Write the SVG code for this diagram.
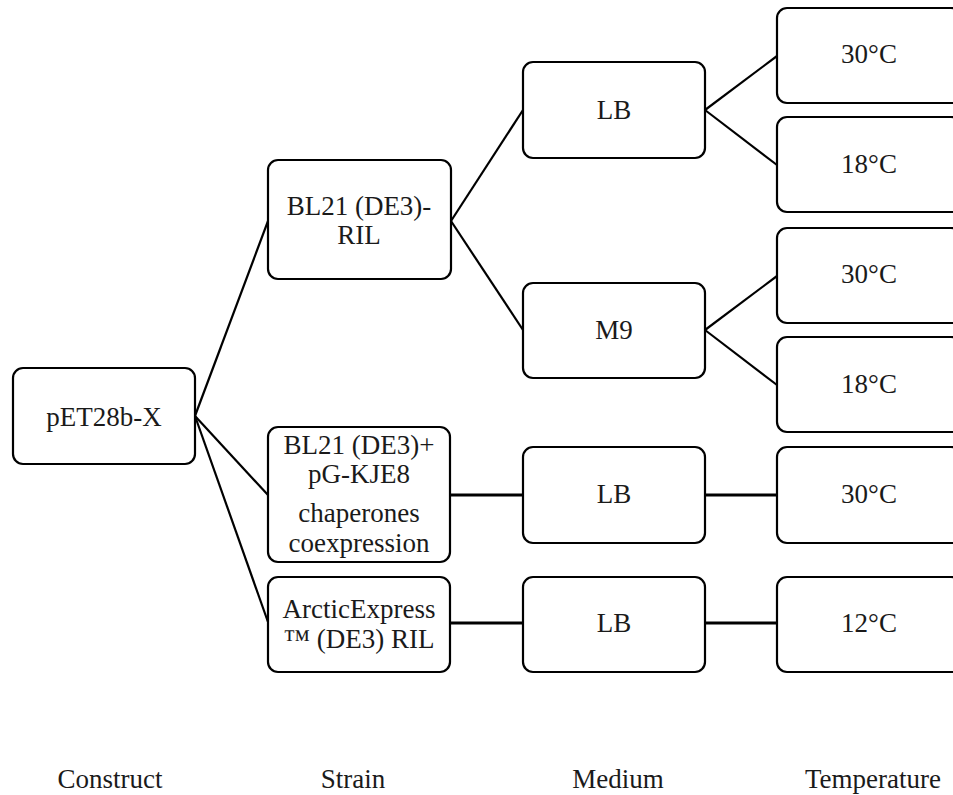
<svg xmlns="http://www.w3.org/2000/svg" width="953" height="795" viewBox="0 0 953 795">
<style>
.box{fill:#fff;stroke:#000;stroke-width:2.2}
.t{font-family:"Liberation Serif","Times New Roman",serif;font-size:27px;fill:#1a1a1a;text-anchor:middle}
.c{stroke:#000;stroke-width:2.2;fill:none}
.h{stroke:#000;stroke-width:3;fill:none}
</style>
<rect width="953" height="795" fill="#fff"/>
<g id="connectors">
<line class="c" x1="195" y1="416" x2="268" y2="221"/>
<line class="c" x1="195" y1="416" x2="268" y2="495"/>
<line class="c" x1="195" y1="416" x2="268" y2="622"/>
<line class="c" x1="451" y1="221" x2="523" y2="110"/>
<line class="c" x1="451" y1="221" x2="523" y2="330"/>
<line class="c" x1="705" y1="110" x2="777" y2="56"/>
<line class="c" x1="705" y1="110" x2="777" y2="165"/>
<line class="c" x1="705" y1="330" x2="777" y2="276"/>
<line class="c" x1="705" y1="330" x2="777" y2="385"/>
<line class="h" x1="450" y1="495" x2="523" y2="495"/>
<line class="h" x1="705" y1="495" x2="777" y2="495"/>
<line class="h" x1="450" y1="623" x2="523" y2="623"/>
<line class="h" x1="705" y1="623" x2="777" y2="623"/>
</g>
<g id="construct">
<rect class="box" x="13" y="368" width="182" height="96" rx="10"/>
<text class="t" x="104" y="426">pET28b-X</text>
</g>
<g id="strain1">
<rect class="box" x="268" y="160" width="183" height="119" rx="10"/>
<text class="t" x="359" y="215">BL21 (DE3)-</text>
<text class="t" x="359" y="244">RIL</text>
</g>
<g id="strain2">
<rect class="box" x="268" y="427" width="182" height="135" rx="10"/>
<text class="t" x="359" y="454">BL21 (DE3)+</text>
<text class="t" x="359" y="483">pG-KJE8</text>
<text class="t" x="359" y="522">chaperones</text>
<text class="t" x="359" y="552">coexpression</text>
</g>
<g id="strain3">
<rect class="box" x="268" y="577" width="182" height="95" rx="10"/>
<text class="t" x="359" y="618">ArcticExpress</text>
<text class="t" x="359" y="648">™ (DE3) RIL</text>
</g>
<g id="medium1">
<rect class="box" x="523" y="62" width="182" height="96" rx="10"/>
<text class="t" x="614" y="119">LB</text>
</g>
<g id="medium2">
<rect class="box" x="523" y="283" width="182" height="95" rx="10"/>
<text class="t" x="614" y="339">M9</text>
</g>
<g id="medium3">
<rect class="box" x="523" y="447" width="182" height="96" rx="10"/>
<text class="t" x="614" y="503">LB</text>
</g>
<g id="medium4">
<rect class="box" x="523" y="577" width="182" height="95" rx="10"/>
<text class="t" x="614" y="632">LB</text>
</g>
<g id="temp1">
<rect class="box" x="777" y="8" width="184" height="95" rx="10"/>
<text class="t" x="869" y="63">30°C</text>
</g>
<g id="temp2">
<rect class="box" x="777" y="117" width="184" height="95" rx="10"/>
<text class="t" x="869" y="173">18°C</text>
</g>
<g id="temp3">
<rect class="box" x="777" y="228" width="184" height="95" rx="10"/>
<text class="t" x="869" y="283">30°C</text>
</g>
<g id="temp4">
<rect class="box" x="777" y="337" width="184" height="95" rx="10"/>
<text class="t" x="869" y="393">18°C</text>
</g>
<g id="temp5">
<rect class="box" x="777" y="447" width="184" height="96" rx="10"/>
<text class="t" x="869" y="503">30°C</text>
</g>
<g id="temp6">
<rect class="box" x="777" y="577" width="184" height="95" rx="10"/>
<text class="t" x="869" y="632">12°C</text>
</g>
<g id="labels">
<text class="t" x="110" y="788">Construct</text>
<text class="t" x="353" y="788">Strain</text>
<text class="t" x="618" y="788">Medium</text>
<text class="t" x="873" y="788">Temperature</text>
</g>
</svg>
